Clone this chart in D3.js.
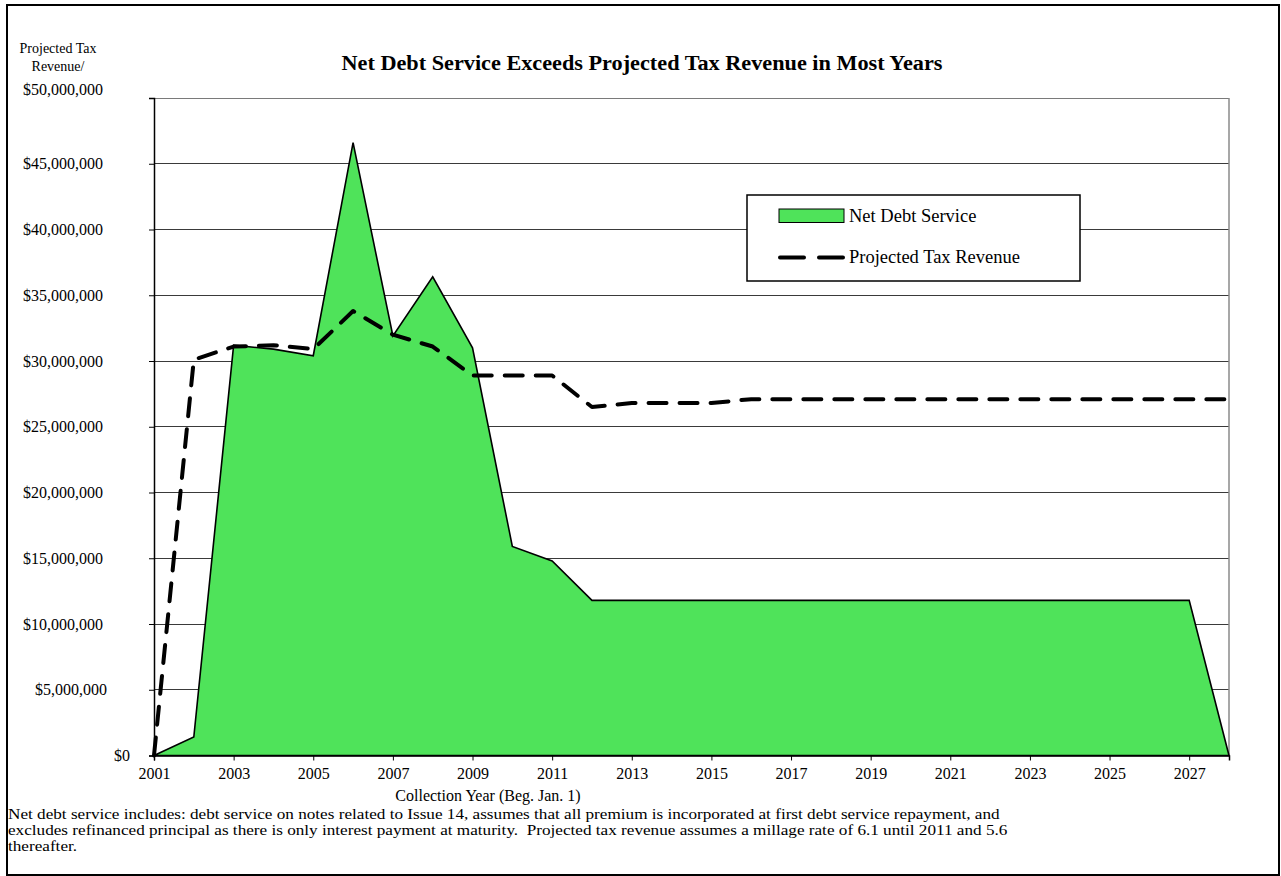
<!DOCTYPE html>
<html>
<head>
<meta charset="utf-8">
<script src="https://cdn.jsdelivr.net/npm/d3@7"></script>
<style>
  html, body { margin: 0; padding: 0; background: #fff; }
  svg { display: block; font-family: "Liberation Serif", "Times New Roman", serif; }
</style>
</head>
<body>
<svg id="chart" width="1281" height="876"></svg>
<script>
// Collection years (Beg. Jan. 1)
const years = [2001, 2002, 2003, 2004, 2005, 2006, 2007, 2008, 2009, 2010,
               2011, 2012, 2013, 2014, 2015, 2016, 2017, 2018, 2019, 2020,
               2021, 2022, 2023, 2024, 2025, 2026, 2027, 2028];

// Net debt service by year, dollars
const netDebtService = [0, 1400000, 31200000, 30900000, 30400000, 46600000, 31900000, 36400000,
                        31000000, 15900000, 14800000, 11800000, 11800000, 11800000, 11800000,
                        11800000, 11800000, 11800000, 11800000, 11800000, 11800000, 11800000,
                        11800000, 11800000, 11800000, 11800000, 11800000, 0];

// Projected tax revenue by year, dollars
const projectedTaxRevenue = [0, 30100000, 31100000, 31200000, 30900000, 33800000, 32000000, 31100000,
                             28900000, 28900000, 28900000, 26500000, 26800000, 26800000, 26800000,
                             27100000, 27100000, 27100000, 27100000, 27100000, 27100000, 27100000,
                             27100000, 27100000, 27100000, 27100000, 27100000, 27100000];

// Axis ticks
const yTicks = [0, 5000000, 10000000, 15000000, 20000000, 25000000, 30000000,
                35000000, 40000000, 45000000, 50000000];
const xTickYears = [2001, 2003, 2005, 2007, 2009, 2011, 2013, 2015, 2017, 2019,
                    2021, 2023, 2025, 2027];

const seriesNames = ["Net Debt Service", "Projected Tax Revenue"];
const titleText = "Net Debt Service Exceeds Projected Tax Revenue in Most Years";
const yTitleLines = ["Projected Tax", "Revenue/"];
const xTitleText = "Collection Year (Beg. Jan. 1)";
const footnoteLines = [
  "Net debt service includes: debt service on notes related to Issue 14, assumes that all premium is incorporated at first debt service repayment, and",
  "excludes refinanced principal as there is only interest payment at maturity.  Projected tax revenue assumes a millage rate of 6.1 until 2011 and 5.6",
  "thereafter."
];

const GREEN = "#4fe35a";
const svg = d3.select("#chart");

// outer frame
svg.append("rect")
  .attr("x", 7).attr("y", 5).attr("width", 1272).attr("height", 870)
  .attr("fill", "#fff").attr("stroke", "#000").attr("stroke-width", 2);

const plot = { left: 154, right: 1229, top: 98, bottom: 755.5 };

const x = d3.scaleLinear().domain([2001, 2028]).range([plot.left, plot.right]);
const y = d3.scaleLinear().domain([0, 50000000]).range([plot.bottom, plot.top]);

const fmt = v => "$" + d3.format(",")(v);

// gridlines
svg.append("g")
  .selectAll("line")
  .data(yTicks.filter(v => v > 0))
  .join("line")
  .attr("x1", plot.left).attr("x2", plot.right)
  .attr("y1", d => y(d)).attr("y2", d => y(d))
  .attr("stroke", d => d === 50000000 ? "#7a7a7a" : "#3a3a3a")
  .attr("stroke-width", 1)
  .attr("shape-rendering", "crispEdges");

// right frame of plot area
svg.append("line")
  .attr("x1", plot.right).attr("x2", plot.right)
  .attr("y1", plot.top).attr("y2", plot.bottom)
  .attr("stroke", "#8a8a8a").attr("stroke-width", 1.5);

// net debt service area
const area = d3.area()
  .x((d, i) => x(years[i]))
  .y0(y(0))
  .y1(d => y(d));

svg.append("path")
  .datum(netDebtService)
  .attr("d", area)
  .attr("fill", GREEN)
  .attr("stroke", "#000")
  .attr("stroke-width", 1.6)
  .attr("stroke-linejoin", "miter");

// projected tax revenue line
const line = d3.line()
  .x((d, i) => x(years[i]))
  .y(d => y(d));

svg.append("path")
  .datum(projectedTaxRevenue)
  .attr("d", line)
  .attr("fill", "none")
  .attr("stroke", "#000")
  .attr("stroke-width", 4)
  .attr("stroke-linecap", "round")
  .attr("stroke-linejoin", "round")
  .attr("stroke-dasharray", "18,13");

// y axis
const yAxis = d3.axisLeft(y)
  .tickValues(yTicks)
  .tickSize(5)
  .tickFormat(fmt);

const gy = svg.append("g")
  .attr("transform", `translate(${plot.left},0)`)
  .call(yAxis);
gy.select(".domain").attr("stroke", "#000").attr("stroke-width", 1.5);
gy.selectAll(".tick line").attr("stroke", "#000");
// label end points: long labels sit at a common edge, the short ones nearer the axis
const labelEnd = v => v === 0 ? 130 : (v === 5000000 ? 107 : 103);
gy.selectAll(".tick text")
  .attr("x", d => labelEnd(d) - plot.left)
  .attr("dy", d => d === 50000000 ? "-0.22em" : "0.32em")
  .attr("font-family", "Liberation Serif, Times New Roman, serif")
  .attr("font-size", 16)
  .attr("fill", "#000");

// x axis
const xAxis = d3.axisBottom(x)
  .tickValues(xTickYears)
  .tickSize(5)
  .tickPadding(7)
  .tickFormat(d3.format("d"));

const gx = svg.append("g")
  .attr("transform", `translate(0,${plot.bottom})`)
  .call(xAxis);
gx.select(".domain").attr("stroke", "#000").attr("stroke-width", 1.5);
gx.selectAll(".tick line").attr("stroke", "#000");
gx.selectAll(".tick text")
  .attr("font-family", "Liberation Serif, Times New Roman, serif")
  .attr("font-size", 16)
  .attr("fill", "#000");

// title
svg.append("text")
  .attr("x", 642).attr("y", 70)
  .attr("text-anchor", "middle")
  .attr("font-weight", "bold")
  .attr("font-size", 20)
  .attr("textLength", 601)
  .attr("lengthAdjust", "spacingAndGlyphs")
  .text(titleText);

// y title
svg.append("g")
  .selectAll("text")
  .data(yTitleLines)
  .join("text")
  .attr("x", 58)
  .attr("y", (d, i) => 53 + i * 18)
  .attr("text-anchor", "middle")
  .attr("font-size", 14)
  .text(d => d);

// x title
svg.append("text")
  .attr("x", 488).attr("y", 801)
  .attr("text-anchor", "middle")
  .attr("font-size", 16)
  .text(xTitleText);

// footnote: the lettering runs a little wide, so the block is stretched sideways
svg.append("g")
  .attr("transform", "translate(8,0) scale(1.145,1)")
  .selectAll("text")
  .data(footnoteLines)
  .join("text")
  .attr("x", 0)
  .attr("y", (d, i) => 819 + i * 16)
  .attr("font-size", 15)
  .attr("xml:space", "preserve")
  .style("white-space", "pre")
  .text(d => d);

// legend
const legend = svg.append("g").attr("transform", "translate(747,195)");
legend.append("rect")
  .attr("width", 333).attr("height", 86)
  .attr("fill", "#fff").attr("stroke", "#000").attr("stroke-width", 1.5);
legend.append("rect")
  .attr("x", 32).attr("y", 14).attr("width", 65).attr("height", 13.5)
  .attr("fill", GREEN).attr("stroke", "#000").attr("stroke-width", 1);
legend.append("line")
  .attr("x1", 33).attr("x2", 97).attr("y1", 62.5).attr("y2", 62.5)
  .attr("stroke", "#000").attr("stroke-width", 4)
  .attr("stroke-linecap", "round")
  .attr("stroke-dasharray", "24,15");
legend.selectAll("text.lbl")
  .data(seriesNames)
  .join("text")
  .attr("class", "lbl")
  .attr("x", 102)
  .attr("y", (d, i) => 27 + i * 41)
  .attr("font-size", 18.5)
  .text(d => d);
</script>
</body>
</html>
